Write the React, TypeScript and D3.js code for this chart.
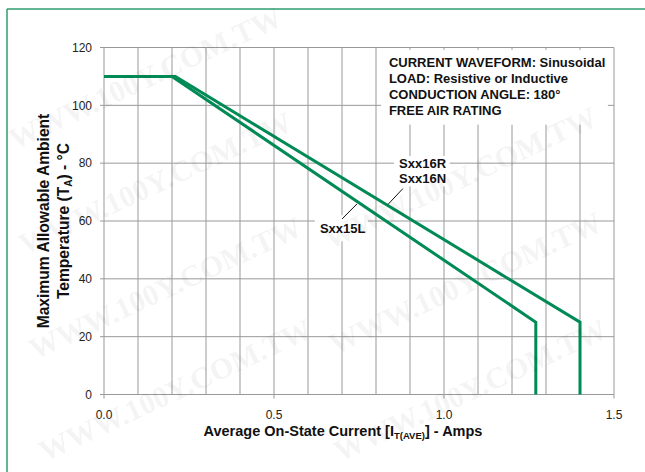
import React from "react";
import * as d3 from "d3";

// derating curves: average on-state current (A) vs max ambient temperature (°C)
const sxx15LCurrent = [0, 0.2, 1.27, 1.27];
const sxx15LTemp = [110, 110, 25, 0];
const sxx16RCurrent = [0, 0.21, 1.4, 1.4];
const sxx16RTemp = [110, 110, 25, 0];

const xMajorTicks = [0, 0.5, 1.0, 1.5];
const xGridTicks = d3.range(0, 16).map((i) => i / 10);
const yTicks = [0, 20, 40, 60, 80, 100, 120];

const noteLines = [
  "CURRENT WAVEFORM: Sinusoidal",
  "LOAD: Resistive or Inductive",
  "CONDUCTION ANGLE: 180°",
  "FREE AIR RATING",
];

const watermarkSpots: [number, number][] = [
  [15, 150], [25, 255], [330, 250], [35, 360], [335, 355], [45, 462], [340, 462],
];

const W = 645;
const H = 472;
const GREEN = "#008a55";
const FONT = "'Liberation Sans', Arial, Helvetica, sans-serif";

const App: React.FC = () => {
  const x = d3.scaleLinear().domain([0, 1.5]).range([104, 614]);
  const y = d3.scaleLinear().domain([0, 120]).range([394.5, 47.5]);

  const line = d3
    .line<[number, number]>()
    .x((d) => x(d[0]))
    .y((d) => y(d[1]));

  const pts15 = sxx15LCurrent.map((c, i) => [c, sxx15LTemp[i]] as [number, number]);
  const pts16 = sxx16RCurrent.map((c, i) => [c, sxx16RTemp[i]] as [number, number]);

  const [x0, x1] = x.range();
  const [yb, yt] = y.range();

  return (
    <svg
      width={W}
      height={H}
      style={{ position: "absolute", left: 0, top: 0, background: "#fff" }}
      fontFamily={FONT}
    >
      {/* frame lines */}
      <line x1={7} y1={9} x2={W} y2={9} stroke="#2f9e6c" strokeWidth={1.5} />
      <line x1={7} y1={9} x2={7} y2={H} stroke="#2f9e6c" strokeWidth={1.5} />

      {/* grid */}
      <g stroke="#999" strokeWidth={1}>
        {xGridTicks.map((t) => (
          <line key={"gx" + t} x1={x(t)} x2={x(t)} y1={yt} y2={yb} />
        ))}
        {yTicks.map((t) => (
          <line key={"gy" + t} x1={x0 - 4} x2={x1} y1={y(t)} y2={y(t)} />
        ))}
        {xMajorTicks.map((t) => (
          <line key={"tx" + t} x1={x(t)} x2={x(t)} y1={yb} y2={yb + 4} />
        ))}
      </g>

      {/* note box masks grid */}
      <rect x={x(0.815)} y={y(119.2)} width={x(1.482) - x(0.815)} height={y(93.3) - y(119.2)} fill="#fff" />
      <g fontSize={13} fontWeight="bold" fill="#111">
        {noteLines.map((s, i) => (
          <text key={s} x={x(0.838)} y={y(113.2) + i * 16}>
            {s}
          </text>
        ))}
      </g>

      {/* curve labels with white backing */}
      <rect x={x(0.853)} y={y(82.5)} width={x(1.017) - x(0.853)} height={y(72) - y(82.5)} fill="#fff" />
      <rect x={x(0.62)} y={y(62)} width={x(0.776) - x(0.62)} height={y(53) - y(62)} fill="#fff" />

      {/* curves */}
      <g fill="none" stroke={GREEN} strokeWidth={3} strokeLinejoin="miter">
        <path d={line(pts15) ?? ""} />
        <path d={line(pts16) ?? ""} />
      </g>

      {/* leader lines */}
      <g stroke="#111" strokeWidth={1}>
        <line x1={x(0.879)} y1={y(71.2)} x2={x(0.835)} y2={y(65.7)} />
        <line x1={x(0.744)} y1={y(65.9)} x2={x(0.7)} y2={y(60.7)} />
      </g>
      <g fontSize={13} fontWeight="bold" fill="#111">
        <text x={x(0.868)} y={y(78.5)}>Sxx16R</text>
        <text x={x(0.868)} y={y(73)}>Sxx16N</text>
        <text x={x(0.635)} y={y(55.7)}>Sxx15L</text>
      </g>

      {/* tick labels */}
      <g fontSize={12} fill="#222">
        {yTicks.map((t) => (
          <text key={"ly" + t} x={x0 - 12} y={y(t) + 4.3} textAnchor="end">
            {t}
          </text>
        ))}
        {xMajorTicks.map((t) => (
          <text key={"lx" + t} x={x(t)} y={yb + 24.8} textAnchor="middle">
            {t.toFixed(1)}
          </text>
        ))}
      </g>

      {/* axis titles */}
      <text x={(x0 + x1) / 2 - 16} y={435.5} textAnchor="middle" fontSize={14.5} fontWeight="bold" fill="#111">
        Average On-State Current [I
        <tspan fontSize={9.5} dy={3}>T(AVE)</tspan>
        <tspan dy={-3}>] - Amps</tspan>
      </text>
      <g transform={`translate(0,${(yt + yb) / 2}) rotate(-90)`} fontSize={15.6} fontWeight="bold" fill="#111" textAnchor="middle">
        <text x={0} y={49}>Maximum Allowable Ambient</text>
        <text x={0} y={69}>
          Temperature (T<tspan fontSize={10} dy={3}>A</tspan>
          <tspan dy={-3}>) - °C</tspan>
        </text>
      </g>

      {/* watermark overlay */}
      <g fontFamily="'Liberation Serif', 'Times New Roman', serif" fontWeight="bold" fontSize={30} fill="#000" opacity={0.045} pointerEvents="none">
        {watermarkSpots.map(([wx, wy], i) => (
          <text key={i} transform={`translate(${wx},${wy}) rotate(-25)`}>
            WWW.100Y.COM.TW
          </text>
        ))}
      </g>
    </svg>
  );
};

export default App;
